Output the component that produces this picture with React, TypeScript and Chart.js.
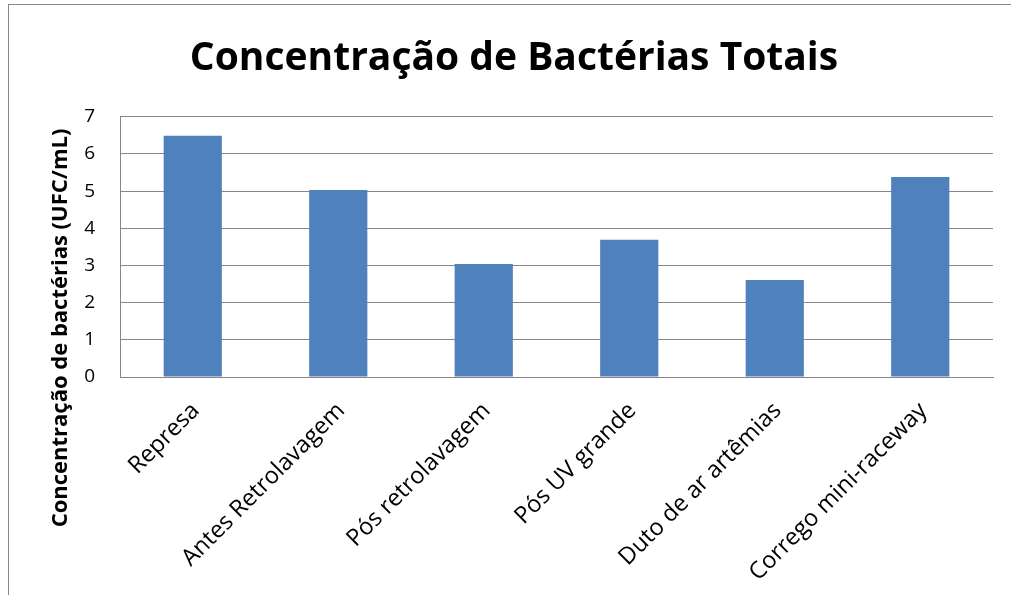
import React, { useEffect, useRef } from "react";
import { Chart, registerables } from "chart.js";

Chart.register(...registerables);

const categories = [
  "Represa",
  "Antes Retrolavagem",
  "Pós retrolavagem",
  "Pós UV grande",
  "Duto de ar artêmias",
  "Corrego mini-raceway",
];
const values = [6.49, 5.03, 3.04, 3.69, 2.61, 5.38];
const yTicks = [0, 1, 2, 3, 4, 5, 6, 7];
const titleText = "Concentração de Bactérias Totais";
const yTitleText = "Concentração de bactérias (UFC/mL)";

const FONT = "'Open Sans', 'DejaVu Sans', sans-serif";

const yTitlePlugin = {
  id: "yTitlePlugin",
  afterDraw(chart: any) {
    const ctx = chart.ctx;
    ctx.save();
    ctx.translate(61, 328);
    ctx.rotate(-Math.PI / 2);
    ctx.font = `bold 22px ${FONT}`;
    ctx.fillStyle = "#000";
    ctx.textAlign = "center";
    ctx.textBaseline = "middle";
    ctx.fillText(yTitleText, 0, 0);
    ctx.restore();
  },
};

export default function App() {
  const ref = useRef<HTMLCanvasElement>(null);
  useEffect(() => {
    if (!ref.current) return;
    const chart = new Chart(ref.current, {
      type: "bar",
      data: {
        labels: categories,
        datasets: [
          {
            data: values,
            backgroundColor: "#4F81BD",
            categoryPercentage: 1,
            barPercentage: 0.4,
          },
        ],
      },
      options: {
        animation: false,
        responsive: false,
        layout: { padding: { left: 35, right: 18, top: 0, bottom: 0 } },
        plugins: {
          legend: { display: false },
          tooltip: { enabled: false },
          title: {
            display: true,
            text: titleText,
            color: "#000",
            font: { family: FONT, size: 39, weight: "bold" },
            padding: { top: 35, bottom: 35 },
          },
        },
        scales: {
          x: {
            grid: { display: false },
            border: { display: true, color: "#868686" },
            ticks: {
              color: "#000",
              font: { family: FONT, size: 23.5 },
              maxRotation: 45,
              minRotation: 45,
              autoSkip: false,
              padding: 12,
              labelOffset: 3,
            },
            afterFit(scale: any) {
              scale.height = 218;
            },
          },
          y: {
            min: 0,
            max: 7,
            afterBuildTicks(scale: any) {
              scale.ticks = yTicks.map((v) => ({ value: v }));
            },
            grid: { color: "#868686", drawTicks: false },
            border: { display: true, color: "#868686" },
            ticks: {
              color: "#000",
              font: { family: FONT, size: 19 },
              padding: 25,
            },
            afterFit(scale: any) {
              scale.width = 85;
            },
          },
        },
      },
      plugins: [yTitlePlugin],
    });
    return () => chart.destroy();
  }, []);
  return (
    <div style={{ position: "fixed", left: 0, top: 0, width: 1011, height: 595, background: "#fff", overflow: "hidden" }}>
      <div
        style={{
          position: "absolute",
          left: 8,
          top: 4,
          width: 1100,
          height: 700,
          border: "1px solid #888",
        }}
      />
      <canvas ref={ref} width={1011} height={595} style={{ position: "absolute", left: 0, top: 0 }} />
    </div>
  );
}
